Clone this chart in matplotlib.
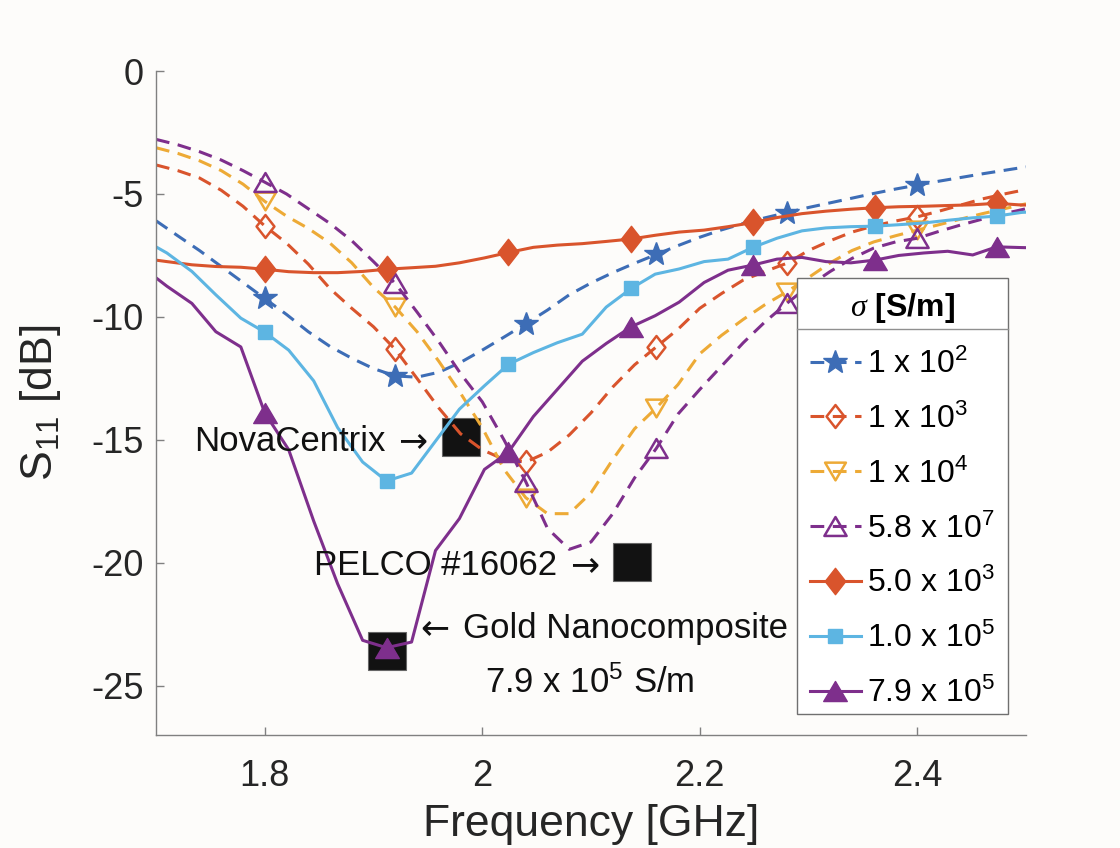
import matplotlib
matplotlib.use("Agg")
import matplotlib.pyplot as plt
from matplotlib.path import Path
from matplotlib.lines import Line2D
from matplotlib.patches import Rectangle

plt.rcParams['font.family'] = ['Liberation Sans', 'DejaVu Sans']
plt.rcParams['mathtext.fontset'] = 'custom'
plt.rcParams['mathtext.rm'] = 'Liberation Sans'
plt.rcParams['mathtext.it'] = 'Liberation Serif:italic'
plt.rcParams['mathtext.bf'] = 'Liberation Sans:bold'
plt.rcParams['mathtext.default'] = 'regular'

# simulated sweeps (dashed), GHz / dB
freq_sim = [1.70, 1.72, 1.74, 1.76, 1.78, 1.80, 1.82, 1.84, 1.86, 1.88,
            1.90, 1.92, 1.94, 1.96, 1.98, 2.00, 2.02, 2.04, 2.06, 2.08,
            2.10, 2.12, 2.14, 2.16, 2.18, 2.20, 2.22, 2.24, 2.26, 2.28,
            2.30, 2.32, 2.34, 2.36, 2.38, 2.40, 2.42, 2.44, 2.46, 2.48, 2.50]
s11_1e2 = [-6.09, -6.7, -7.3, -7.95, -8.6, -9.25, -9.9, -10.6, -11.2, -11.68,
           -12.1, -12.4, -12.45, -12.25, -11.85, -11.35, -10.82, -10.28, -9.72, -9.1,
           -8.62, -8.2, -7.82, -7.46, -7.1, -6.76, -6.46, -6.2, -5.97, -5.76,
           -5.55, -5.36, -5.17, -4.98, -4.8, -4.64, -4.48, -4.33, -4.18, -4.04, -3.9]
s11_1e3 = [-3.82, -4.05, -4.35, -4.85, -5.5, -6.3, -7.0, -7.85, -8.85, -9.65,
           -10.4, -11.32, -12.5, -13.7, -14.75, -15.4, -15.8, -15.9, -15.5, -14.8,
           -13.9, -12.85, -11.95, -11.22, -10.5, -9.65, -9.05, -8.5, -8.15, -7.82,
           -7.3, -6.9, -6.55, -6.3, -6.1, -5.93, -5.7, -5.45, -5.2, -5.0, -4.82]
s11_1e4 = [-3.12, -3.35, -3.65, -4.05, -4.6, -5.3, -5.9, -6.4, -7.0, -7.8,
           -8.8, -9.6, -10.6, -11.8, -13.1, -14.5, -16.2, -17.35, -18.0, -18.0,
           -17.15, -15.8, -14.55, -13.7, -12.75, -11.5, -10.75, -10.1, -9.5, -8.98,
           -8.4, -7.8, -7.3, -6.95, -6.7, -6.47, -6.25, -6.02, -5.8, -5.6, -5.4]
s11_58e7 = [-2.78, -3.0, -3.28, -3.62, -4.05, -4.52, -5.0, -5.6, -6.2, -6.9,
            -7.75, -8.64, -9.8, -11.0, -12.3, -13.45, -15.0, -16.7, -18.6, -19.45,
            -19.15, -18.0, -16.55, -15.35, -13.95, -12.95, -12.0, -11.05, -10.2, -9.45,
            -8.75, -8.15, -7.62, -7.2, -6.95, -6.8, -6.52, -6.26, -6.02, -5.8, -5.6]

# measured sweeps (solid)
freq_meas = [1.688, 1.710, 1.733, 1.755, 1.778, 1.800, 1.822, 1.845, 1.867, 1.890,
             1.912, 1.935, 1.957, 1.979, 2.002, 2.024, 2.047, 2.069, 2.092, 2.114,
             2.137, 2.159, 2.181, 2.204, 2.226, 2.249, 2.271, 2.294, 2.316, 2.339,
             2.361, 2.383, 2.406, 2.428, 2.451, 2.473, 2.496, 2.518]
s11_5e3 = [-7.62, -7.75, -7.88, -7.95, -7.98, -8.06, -8.16, -8.2, -8.2, -8.15,
           -8.06, -8.0, -7.94, -7.8, -7.6, -7.38, -7.17, -7.08, -7.02, -6.93,
           -6.83, -6.68, -6.55, -6.47, -6.33, -6.16, -5.96, -5.8, -5.7, -5.62,
           -5.56, -5.52, -5.5, -5.47, -5.44, -5.38, -5.45, -5.45]
s11_1e5 = [-6.85, -7.4, -8.15, -9.1, -10.05, -10.62, -11.35, -12.6, -14.5, -15.9,
           -16.67, -16.35, -15.05, -13.75, -12.8, -11.93, -11.45, -11.05, -10.7, -9.6,
           -8.84, -8.26, -8.05, -7.75, -7.65, -7.17, -6.8, -6.5, -6.38, -6.33,
           -6.31, -6.25, -6.18, -6.07, -5.97, -5.9, -5.75, -5.7]
s11_79e5 = [-8.0, -8.75, -9.45, -10.6, -11.22, -13.9, -15.4, -18.3, -20.85, -23.15,
            -23.45, -23.22, -19.5, -18.2, -16.2, -15.5, -14.05, -12.95, -11.8, -11.08,
            -10.4, -9.95, -9.4, -8.6, -8.1, -7.89, -7.65, -7.58, -7.75, -7.8,
            -7.69, -7.5, -7.4, -7.33, -7.48, -7.15, -7.18, -7.2]

# black squares marking the fabricated samples
note_freq = [1.980, 2.1377, 1.9126]
note_s11 = [-14.88, -19.98, -23.58]

labels = ['1 x 10$^2$', '1 x 10$^3$', '1 x 10$^4$', '5.8 x 10$^7$',
          '5.0 x 10$^3$', '1.0 x 10$^5$', '7.9 x 10$^5$']

blue = '#3d6db6'
red = '#d9542c'
yellow = '#edaa36'
purple = '#7e2f8c'
cyan = '#5db5e2'

diamond = Path([(0, 1), (0.78, 0), (0, -1), (-0.78, 0), (0, 1)], closed=True)
tri_up = Path([(0, 0.85), (1, -0.85), (-1, -0.85), (0, 0.85)], closed=True)
tri_dn = Path([(0, -0.85), (1, 0.85), (-1, 0.85), (0, -0.85)], closed=True)

fig = plt.figure(figsize=(11.2, 8.48), dpi=100, facecolor='#fdfcfa')
ax = fig.add_axes([0.13929, 0.13325, 0.77679, 0.78302])
ax.set_facecolor('#fdfcfa')

ax.plot(note_freq, note_s11, 's', ms=28, color='#121212', mec='#666666', mew=0.8,
        zorder=1.5)

dash = (4.5, 2.8)
lw = 2.2
h = []
h += ax.plot(freq_sim, s11_1e2, '--', color=blue, lw=lw, dashes=dash, marker='*',
             ms=18, mfc=blue, mec=blue, markevery=(5, 6))
h += ax.plot(freq_sim, s11_1e3, '--', color=red, lw=lw, dashes=dash, marker=diamond,
             ms=16.5, mfc='none', mec=red, mew=1.8, markevery=(5, 6))
h += ax.plot(freq_sim, s11_1e4, '--', color=yellow, lw=lw, dashes=dash, marker=tri_dn,
             ms=15, mfc='none', mec=yellow, mew=1.8, markevery=(5, 6))
h += ax.plot(freq_sim, s11_58e7, '--', color=purple, lw=lw, dashes=dash, marker=tri_up,
             ms=16, mfc='none', mec=purple, mew=1.8, markevery=(5, 6))
h += ax.plot(freq_meas, s11_5e3, '-', color=red, lw=lw, marker=diamond,
             ms=19, mfc=red, mec=red, mew=1, markevery=(5, 5))
h += ax.plot(freq_meas, s11_1e5, '-', color=cyan, lw=lw, marker='s',
             ms=10.5, mfc=cyan, mec=cyan, mew=1, markevery=(5, 5))
h += ax.plot(freq_meas, s11_79e5, '-', color=purple, lw=lw, marker=tri_up,
             ms=17, mfc=purple, mec=purple, mew=1, markevery=(5, 5))

# annotations (arrows set in DejaVu Sans, which has the longer arrow glyph)
txt = dict(fontsize=25, color='#111111', va='baseline')
arr = dict(fontsize=25, color='#111111', va='baseline', ha='center',
           family='DejaVu Sans')
ax.text(1.9106, -15.46, 'NovaCentrix', ha='right', **txt)
ax.text(1.9363, -15.46, '\u2192', **arr)
ax.text(2.0684, -20.5, 'PELCO #16062', ha='right', **txt)
ax.text(2.0945, -20.5, '\u2192', **arr)
ax.text(1.9566, -23.04, '\u2190', **arr)
ax.text(1.9826, -23.04, 'Gold Nanocomposite', ha='left', **txt)
ax.text(2.099, -25.28, '7.9 x 10$^5$ S/m', ha='center', **txt)

ax.set_xlim(1.7, 2.5)
ax.set_ylim(-27, 0)
ax.set_xticks([1.8, 2.0, 2.2, 2.4])
ax.set_xticklabels(['1.8', '2', '2.2', '2.4'])
ax.set_yticks([-25, -20, -15, -10, -5, 0])
ax.set_yticklabels(['-25', '-20', '-15', '-10', '-5', '0'])
for s in ['top', 'right']:
    ax.spines[s].set_visible(False)
for s in ['left', 'bottom']:
    ax.spines[s].set_color('#808080')
    ax.spines[s].set_linewidth(1.0)
ax.tick_params(direction='in', length=6, width=1, color='#808080',
               labelsize=26, labelcolor='#262626')
ax.tick_params(axis='x', pad=17)
ax.tick_params(axis='y', pad=9)

ax.set_xlabel('Frequency [GHz]', fontsize=32, color='#262626')
ax.xaxis.set_label_coords(0.5, -0.104)
ax.set_ylabel('S$_{11}$ [dB]', fontsize=32, color='#262626')
ax.yaxis.set_label_coords(-0.107, 0.5)

# legend box drawn by hand so it matches the boxed MATLAB legend
box_l, box_r, box_t, box_b = 797 / 1120, 1007.5 / 1120, 1 - 278 / 848, 1 - 714 / 848
ax.add_patch(Rectangle((box_l, box_b), box_r - box_l, box_t - box_b,
                       transform=fig.transFigure, facecolor='white',
                       edgecolor='#707070', lw=1.0, zorder=4.9, clip_on=False))
leg = ax.legend(h, labels, loc='upper left',
                bbox_to_anchor=(box_l, box_b, box_r - box_l, box_t - box_b),
                bbox_transform=fig.transFigure, mode='expand', borderaxespad=0,
                title=r'$\mathit{\sigma}$ [S/m]',
                title_fontproperties={'weight': 'bold', 'size': 23},
                prop={'size': 23}, handlelength=1.6, handletextpad=0.2,
                labelspacing=0.74, borderpad=0.4, frameon=False, numpoints=1)
leg.set_zorder(5)
ax.add_line(Line2D([box_l, box_r], [1 - 329 / 848, 1 - 329 / 848],
                   transform=fig.transFigure, color='#909090', lw=1.0,
                   zorder=5.1, clip_on=False))

fig.savefig('out.png', dpi=100, facecolor=fig.get_facecolor())
